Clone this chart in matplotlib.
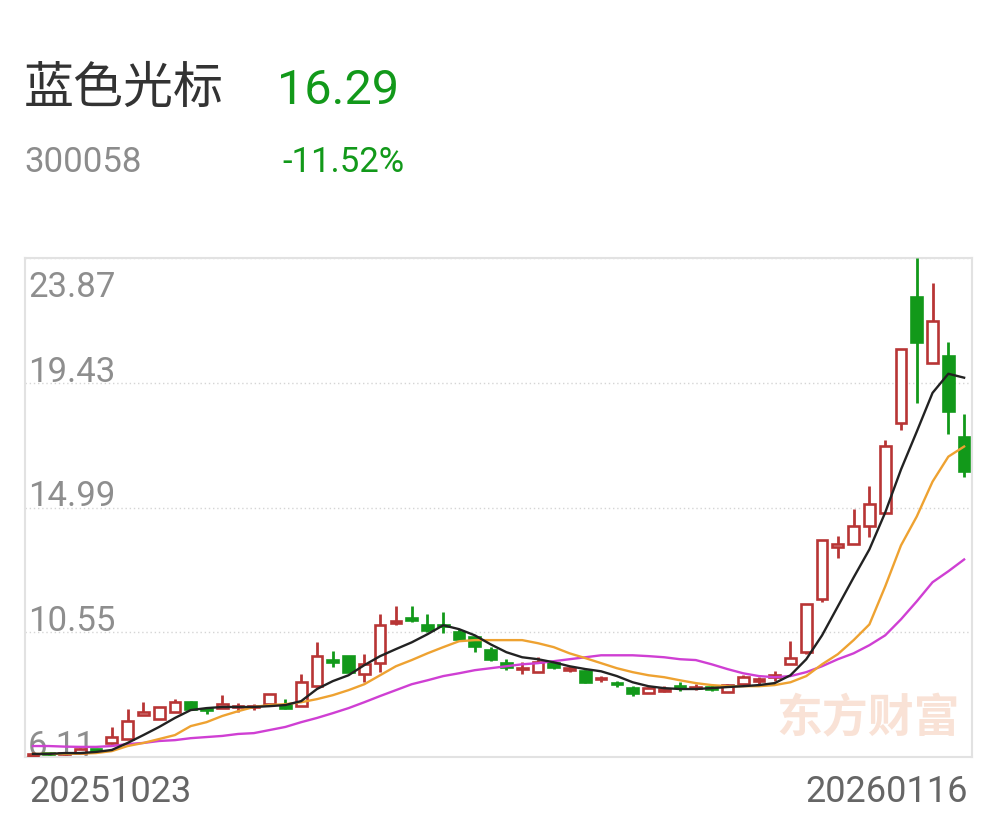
import matplotlib
matplotlib.use('Agg')
import matplotlib.pyplot as plt
from matplotlib.patches import Rectangle
import matplotlib.transforms as mtransforms

# daily candles 20251023 .. 20260116
opens = [6.15, 6.22, 6.20, 6.26, 6.36, 6.61, 6.75, 7.60, 7.46, 7.71,
         8.06, 7.80, 7.85, 7.89, 7.89, 7.99, 7.96, 7.92, 8.63, 9.56,
         9.70, 9.06, 9.45, 10.87, 11.05, 10.80, 10.82, 10.55, 10.37, 9.91,
         9.45, 9.24, 9.13, 9.45, 9.22, 9.16, 8.88, 8.72, 8.56, 8.38,
         8.47, 8.65, 8.56, 8.58, 8.42, 8.70, 8.83, 8.97, 9.41, 9.84,
         11.72, 13.60, 13.68, 14.32, 14.81, 18.01, 22.49, 20.14, 20.39, 17.51]
highs = [6.28, 6.25, 6.28, 6.42, 6.40, 7.18, 7.81, 8.06, 7.89, 8.17,
         8.10, 7.89, 8.31, 8.03, 8.00, 8.35, 8.17, 9.06, 10.20, 9.88,
         9.72, 9.77, 11.19, 11.47, 11.47, 11.19, 11.26, 10.66, 10.41, 10.02,
         9.59, 9.48, 9.66, 9.52, 9.34, 9.20, 8.99, 8.81, 8.63, 8.60,
         8.63, 8.77, 8.70, 8.67, 8.70, 9.02, 8.95, 9.16, 10.23, 11.54,
         13.85, 13.96, 14.95, 15.74, 17.41, 20.64, 23.87, 22.98, 20.89, 18.33]
lows = [6.11, 6.17, 6.18, 6.24, 6.30, 6.58, 6.75, 7.60, 7.46, 7.71,
        7.78, 7.64, 7.85, 7.71, 7.78, 7.99, 7.82, 7.92, 8.60, 9.31,
        9.13, 8.77, 9.13, 10.80, 10.91, 10.55, 10.51, 10.23, 9.84, 9.52,
        9.20, 9.06, 9.13, 9.24, 9.13, 8.74, 8.77, 8.60, 8.28, 8.38,
        8.42, 8.45, 8.49, 8.45, 8.42, 8.70, 8.70, 8.81, 9.41, 9.77,
        11.62, 13.21, 13.68, 13.93, 14.81, 17.76, 18.72, 20.14, 17.62, 16.06]
closes = [6.22, 6.20, 6.24, 6.38, 6.34, 6.82, 7.39, 7.71, 7.89, 8.06,
          7.82, 7.77, 7.99, 7.92, 7.92, 8.35, 7.85, 8.77, 9.70, 9.49,
          9.13, 9.41, 10.80, 10.94, 10.98, 10.62, 10.76, 10.30, 10.05, 9.59,
          9.31, 9.27, 9.48, 9.31, 9.25, 8.77, 8.92, 8.70, 8.38, 8.56,
          8.51, 8.60, 8.60, 8.54, 8.67, 8.95, 8.86, 9.00, 9.63, 11.54,
          13.85, 13.68, 14.32, 15.10, 17.19, 20.64, 20.89, 21.63, 18.41, 16.29]

ma5 = [6.22, 6.22, 6.25, 6.25, 6.29, 6.36, 6.61, 6.89, 7.18, 7.50,
       7.78, 7.85, 7.89, 7.89, 7.89, 7.92, 7.96, 8.10, 8.53, 8.81,
       9.02, 9.38, 9.70, 9.95, 10.19, 10.48, 10.80, 10.66, 10.44, 10.12,
       9.84, 9.66, 9.59, 9.48, 9.34, 9.24, 9.16, 8.99, 8.77, 8.63,
       8.56, 8.53, 8.53, 8.56, 8.60, 8.63, 8.67, 8.74, 9.02, 9.59,
       10.44, 11.47, 12.50, 13.50, 14.81, 16.34, 17.69, 19.07, 19.75, 19.61]
ma10 = [6.22, 6.22, 6.22, 6.23, 6.25, 6.32, 6.50, 6.61, 6.75, 6.89,
        7.21, 7.35, 7.57, 7.74, 7.89, 7.96, 7.99, 8.06, 8.17, 8.31,
        8.49, 8.70, 9.02, 9.34, 9.56, 9.80, 10.02, 10.23, 10.27, 10.27,
        10.27, 10.27, 10.16, 10.02, 9.80, 9.63, 9.45, 9.27, 9.13, 9.02,
        8.95, 8.84, 8.74, 8.67, 8.63, 8.63, 8.63, 8.67, 8.77, 8.99,
        9.41, 9.77, 10.27, 10.83, 12.18, 13.64, 14.67, 15.91, 16.80, 17.16]
ma20 = [6.50, 6.50, 6.48, 6.47, 6.47, 6.50, 6.57, 6.61, 6.68, 6.71,
        6.78, 6.82, 6.86, 6.93, 6.96, 7.07, 7.18, 7.35, 7.50, 7.67,
        7.85, 8.06, 8.28, 8.49, 8.70, 8.84, 8.99, 9.09, 9.20, 9.27,
        9.34, 9.41, 9.45, 9.52, 9.59, 9.66, 9.73, 9.73, 9.73, 9.70,
        9.66, 9.59, 9.56, 9.41, 9.24, 9.09, 8.99, 8.95, 8.99, 9.13,
        9.34, 9.59, 9.80, 10.09, 10.44, 11.01, 11.65, 12.33, 12.72, 13.14]

price_ticks = [6.11, 10.55, 14.99, 19.43, 23.87]
tick_labels = ['6.11', '10.55', '14.99', '19.43', '23.87']
date_labels = ['20251023', '20260116']

RED = '#b83535'
GREEN = '#12991a'

W, H = 996, 818
fig = plt.figure(figsize=(W / 100, H / 100), dpi=100)
fig.patch.set_facecolor('white')

def fx(px):
    return px / W

def fy(py):
    return 1 - py / H

# header
fig.text(fx(24), fy(89), '蓝色光标', fontsize=36, color='#333333',
         family=['Noto Sans CJK SC', 'DejaVu Sans'], va='center', ha='left')
fig.text(fx(277), fy(91), '16.29', fontsize=35, color=GREEN,
         family='Roboto', va='center', ha='left')
fig.text(fx(24), fy(162), '300058', fontsize=25, color='#8c8c8c',
         family='Roboto', va='center', ha='left')
fig.text(fx(282), fy(162), '-11.52%', fontsize=25, color=GREEN,
         family='Roboto', va='center', ha='left')

ax = fig.add_axes([fx(25), fy(757), fx(972) - fx(25), fy(258) - fy(757)])
n = len(closes)
ax.set_xlim(-0.5, n - 0.5)
ax.set_ylim(price_ticks[0], price_ticks[-1])
for s in ax.spines.values():
    s.set_color('#e2e2e2')
    s.set_linewidth(1.5)
ax.set_xticks([])
ax.set_yticks(price_ticks)
ax.tick_params(axis='y', length=0, labelleft=False)
ax.grid(axis='y', color='#d5d5d5', linestyle=(0, (1, 2)), linewidth=1)

# watermark
ax.text(0.987, 0.075, '东方财富', transform=ax.transAxes, fontsize=33,
        color='#f9e2d6', weight='bold', ha='right', va='center',
        family=['Noto Sans CJK SC', 'DejaVu Sans'], zorder=0)

# y labels inside the plot
for v, t in zip(price_ticks, tick_labels):
    tr = mtransforms.blended_transform_factory(ax.transAxes, ax.transData)
    if v == price_ticks[-1]:
        tr = tr + mtransforms.ScaledTranslation(3 / 100, -13 / 100, fig.dpi_scale_trans)
        va = 'top'
    else:
        tr = tr + mtransforms.ScaledTranslation(3 / 100, 1 / 100, fig.dpi_scale_trans)
        va = 'baseline'
    ax.text(0, v, t, transform=tr, fontsize=25, color='#8e8e8e',
            family='Roboto', ha='left', va=va, zorder=1)

# candles
bw = 0.68
min_h = 0.05
for i in range(n):
    o, h, l, c = opens[i], highs[i], lows[i], closes[i]
    up = c >= o
    col = RED if up else GREEN
    lo_b, hi_b = min(o, c), max(o, c)
    bh = max(hi_b - lo_b, min_h)
    ax.vlines(i, hi_b, h, color=col, linewidth=2.0, zorder=3)
    ax.vlines(i, l, lo_b, color=col, linewidth=2.0, zorder=3)
    ax.add_patch(Rectangle((i - bw / 2, lo_b), bw, bh,
                           facecolor='white' if up else col,
                           edgecolor=col, linewidth=1.9, zorder=3))

x = list(range(n))
ax.plot(x, ma20, color='#cf3fd3', linewidth=1.7, zorder=4)
ax.plot(x, ma10, color='#eea231', linewidth=1.7, zorder=4)
ax.plot(x, ma5, color='#222222', linewidth=1.7, zorder=4)

# dates
fig.text(fx(29), fy(792), date_labels[0], fontsize=26, color='#666666',
         family='Roboto', va='center', ha='left')
fig.text(fx(968), fy(792), date_labels[1], fontsize=26, color='#666666',
         family='Roboto', va='center', ha='right')

fig.savefig('out.png', dpi=100, facecolor='white')
